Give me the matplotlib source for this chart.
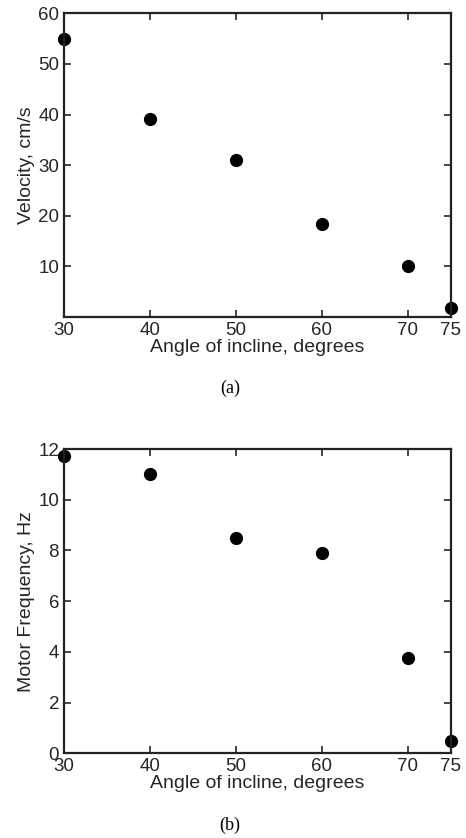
import matplotlib
matplotlib.use("Agg")
import matplotlib.pyplot as plt

# data
angle = [30, 40, 50, 60, 70, 75]
velocity = [55.0, 39.2, 31.1, 18.3, 10.0, 1.7]
motor_freq = [11.72, 11.0, 8.5, 7.9, 3.77, 0.5]

x_ticks = [30, 40, 50, 60, 70, 75]
vel_ticks = [10, 20, 30, 40, 50, 60]
freq_ticks = [0, 2, 4, 6, 8, 10, 12]

plt.rcParams['font.family'] = ['Liberation Sans', 'DejaVu Sans']
plt.rcParams['font.size'] = 14

fig = plt.figure(figsize=(4.66, 8.38), dpi=100)
ax1 = fig.add_axes([0.1373, 0.6217, 0.8305, 0.3624])
ax2 = fig.add_axes([0.1373, 0.1011, 0.8305, 0.3631])

def style(ax):
    ax.tick_params(direction='in', length=5, width=1.2, top=True, right=True,
                   labelsize=13.5, colors='#262626', pad=3.5)
    for s in ax.spines.values():
        s.set_linewidth(1.6)
        s.set_color('#222222')

ax1.plot(angle, velocity, 'o', color='black', markersize=8.5, clip_on=False)
ax1.set_xlim(30, 75)
ax1.set_ylim(0, 60)
ax1.set_xticks(x_ticks)
ax1.set_yticks(vel_ticks)
ax1.set_xlabel('Angle of incline, degrees', labelpad=0, color='#262626')
ax1.set_ylabel('Velocity, cm/s', labelpad=2, color='#262626')
style(ax1)

ax2.plot(angle, motor_freq, 'o', color='black', markersize=8.5, clip_on=False)
ax2.set_xlim(30, 75)
ax2.set_ylim(0, 12)
ax2.set_xticks(x_ticks)
ax2.set_yticks(freq_ticks)
ax2.set_xlabel('Angle of incline, degrees', labelpad=0, color='#262626')
ax2.set_ylabel('Motor Frequency, Hz', labelpad=2, color='#262626')
style(ax2)

fig.text(0.494, 1 - 388 / 838, '(a)', ha='center', va='center',
         family='Liberation Serif', fontsize=13)
fig.text(0.494, 1 - 825 / 838, '(b)', ha='center', va='center',
         family='Liberation Serif', fontsize=13)

fig.savefig('out.png', dpi=100)
